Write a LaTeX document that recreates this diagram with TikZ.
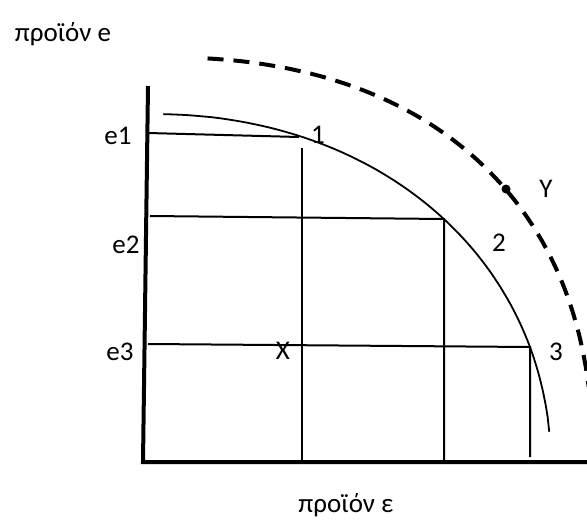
\documentclass[tikz,border=0pt]{standalone}
\usepackage{fontspec}
\setmainfont{Carlito}
\usetikzlibrary{positioning}
\tikzset{
  every picture/.style={x=1pt, y=-1pt, font=\fontsize{27}{32}\selectfont},
  axis/.style={line width=4pt, line join=miter},
  guide/.style={line width=2pt},
  ppf/.style={line width=1.8pt},
  shifted/.style={line width=4pt, dash pattern=on 16pt off 10pt},
  lbl/.style={inner sep=0pt},
}
\begin{document}
\begin{tikzpicture}
  \useasboundingbox (0,0) rectangle (587,525);

  \coordinate (ytop) at (148,86);
  \coordinate (o) at (143,462);
  \coordinate (xend) at (587,462);
  \coordinate (p1) at (299,137);
  \coordinate (p2) at (444,219);
  \coordinate (p3) at (530,347);
  \coordinate (Ypt) at (506,189);

  \node[lbl] (ylab) at (63,34) {προϊόν e};
  \node[lbl] (xlab) at (346,505) {προϊόν ε};
  \node[lbl] (e1) at (118,136) {e1};
  \node[lbl] (e2) at (126,245) {e2};
  \node[lbl] (e3) at (120,352) {e3};
  \node[lbl] (n1) at (318,135) {1};
  \node[lbl] (n2) at (499,243) {2};
  \node[lbl] (n3) at (556,352) {3};
  \node[lbl] (nx) at (283,351) {X};
  \node[lbl] (ny) at (546,189) {Y};

  \draw[axis] (ytop) -- (o) -- (xend);

  \draw[ppf] plot[domain=5.5:88.4, samples=80, variable=\t]
    ({150+401*cos(\t)^0.952}, {470-356*sin(\t)^0.952});
  \draw[shifted] plot[domain=84.8:8.7, samples=80, variable=\t]
    ({150+443*cos(\t)^0.851}, {470-413*sin(\t)^0.851});
  \fill (Ypt) circle (4.5);

  \draw[guide] (148,133) -- (p1);
  \draw[guide] (150,216) -- (p2) -- (444,462);
  \draw[guide] (148,344) -- (p3) -- (530,457);
  \draw[guide] (302,148) -- (302,462);
\end{tikzpicture}
\end{document}
